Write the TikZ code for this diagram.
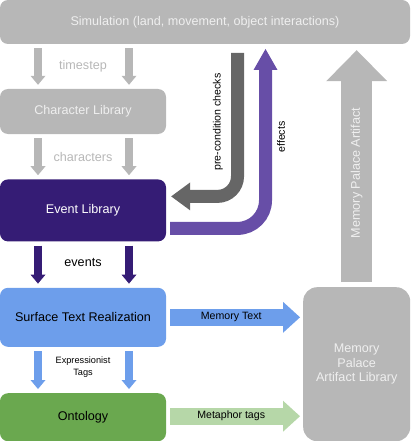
\documentclass[tikz,border=0pt]{standalone}
\usepackage{fontspec}
\setmainfont{Liberation Sans}
\usetikzlibrary{arrows.meta,positioning,calc}

\definecolor{simgray}{HTML}{B7B7B7}
\definecolor{lightfont}{HTML}{EFEFEF}
\definecolor{eventpurple}{HTML}{351C75}
\definecolor{effpurple}{HTML}{674EA7}
\definecolor{surfblue}{HTML}{6D9EEB}
\definecolor{ontogreen}{HTML}{6AA84F}
\definecolor{tagsgreen}{HTML}{B6D7A8}
\definecolor{checkgray}{HTML}{666666}

\tikzset{
  lib/.style={rounded corners=8pt, minimum width=166pt, inner sep=0pt, font=\fontsize{12.6}{14.5}\selectfont},
  lbl/.style={inner sep=0pt, font=\fontsize{12.6}{14.5}\selectfont},
  smalllbl/.style={inner sep=0pt, text=black, font=\fontsize{10.6}{12.5}\selectfont},
  flow/.style={line width=8pt, -{Triangle[width=15pt,length=9pt,line width=0pt]}},
  wide/.style={line width=17pt, -{Triangle[width=31pt,length=17pt,line width=0pt]}},
  bent/.style={line width=13pt},
}

\begin{document}
\begin{tikzpicture}[x=1pt,y=-1pt]
\useasboundingbox (0,0) rectangle (410,441);

\node[lib, fill=simgray, text=lightfont, minimum width=410pt, minimum height=44pt] (sim) at (205,22) {Simulation (land, movement, object interactions)};

\node[lib, fill=simgray, text=lightfont, minimum height=45pt] (charlib) at (83,111.5) {Character Library};

\node[lib, fill=eventpurple, text=white, minimum height=62pt, below=45pt of charlib] (eventlib) {Event Library};

\node[lib, fill=surfblue, minimum height=59pt, below=46pt of eventlib] (surface) {Surface Text Realization};

\node[lib, fill=ontogreen, minimum height=48pt, below=46pt of surface] (onto) {Ontology};

\node[lib, fill=simgray, text=lightfont, rounded corners=14pt, minimum width=107pt, minimum height=154pt, align=center, anchor=north west] (palace) at (303,287) {Memory\\Palace\\Artifact Library};

% timestep / characters / events / tags
\foreach \dx in {-45,46} {
  \draw[flow, simgray] ($(charlib.north |- sim.south)+(\dx,4)$) -- ($(charlib.north)+(\dx,-4)$);
  \draw[flow, simgray] ($(charlib.south)+(\dx,4)$) -- ($(eventlib.north)+(\dx,-4)$);
  \draw[flow, eventpurple] ($(eventlib.south)+(\dx,4)$) -- ($(surface.north)+(\dx,-4)$);
  \draw[flow, surfblue] ($(surface.south)+(\dx,4)$) -- ($(onto.north)+(\dx,-4)$);
}

\node[lbl, text=simgray] (tslbl) at ($(charlib.north |- sim.south)!.5!(charlib.north)$) {timestep};
\node[lbl, text=simgray] (chlbl) at ($(charlib.south)!.5!(eventlib.north)$) {characters};
\node[lbl, text=black] (evlbl) at ($(eventlib.south)!.5!(surface.north)+(0,-2)$) {events};
\node[smalllbl, align=center, font=\fontsize{9.2}{12}\selectfont] (taglbl) at ($(surface.south)!.5!(onto.north)+(0,-3)$) {Expressionist\\Tags};

% to the artifact library
\draw[wide, surfblue] ($(surface.east)+(4,0)$) -- ($(surface.east -| palace.west)+(-3,0)$)
  node[smalllbl, pos=.47] (memlbl) {Memory Text};
\draw[wide, tagsgreen] ($(onto.east)+(4,-1)$) -- ($(onto.east -| palace.west)+(-3,-1)$)
  node[smalllbl, pos=.47] (metlbl) {Metaphor tags};

% artifact back up to the simulation
\draw[simgray, line width=31pt, -{Triangle[width=61pt,length=31pt,line width=0pt]}]
  ($(palace.north)+(0,-5)$) -- ($(palace.north |- sim.south)+(0,6)$)
  node[lbl, text=lightfont, pos=.47, sloped] (artlbl) {Memory Palace Artifact};

% checks and effects
\coordinate (chktop) at (237.5,53);
\coordinate (efftop) at (265.5,49);

\draw[bent, checkgray, rounded corners=20pt, -{Triangle[width=28pt,length=19pt,line width=0pt]}]
  (chktop) |- ($(eventlib.east)+(5,-14)$);

\draw[bent, effpurple, rounded corners=28pt, -{Triangle[width=24pt,length=21pt,line width=0pt]}]
  ($(eventlib.east)+(4,18)$) -| (efftop);

\node[smalllbl, rotate=90] (chklbl) at (218,122) {pre-condition checks};
\node[smalllbl, rotate=90] (efflbl) at (281,137) {effects};

\end{tikzpicture}
\end{document}
